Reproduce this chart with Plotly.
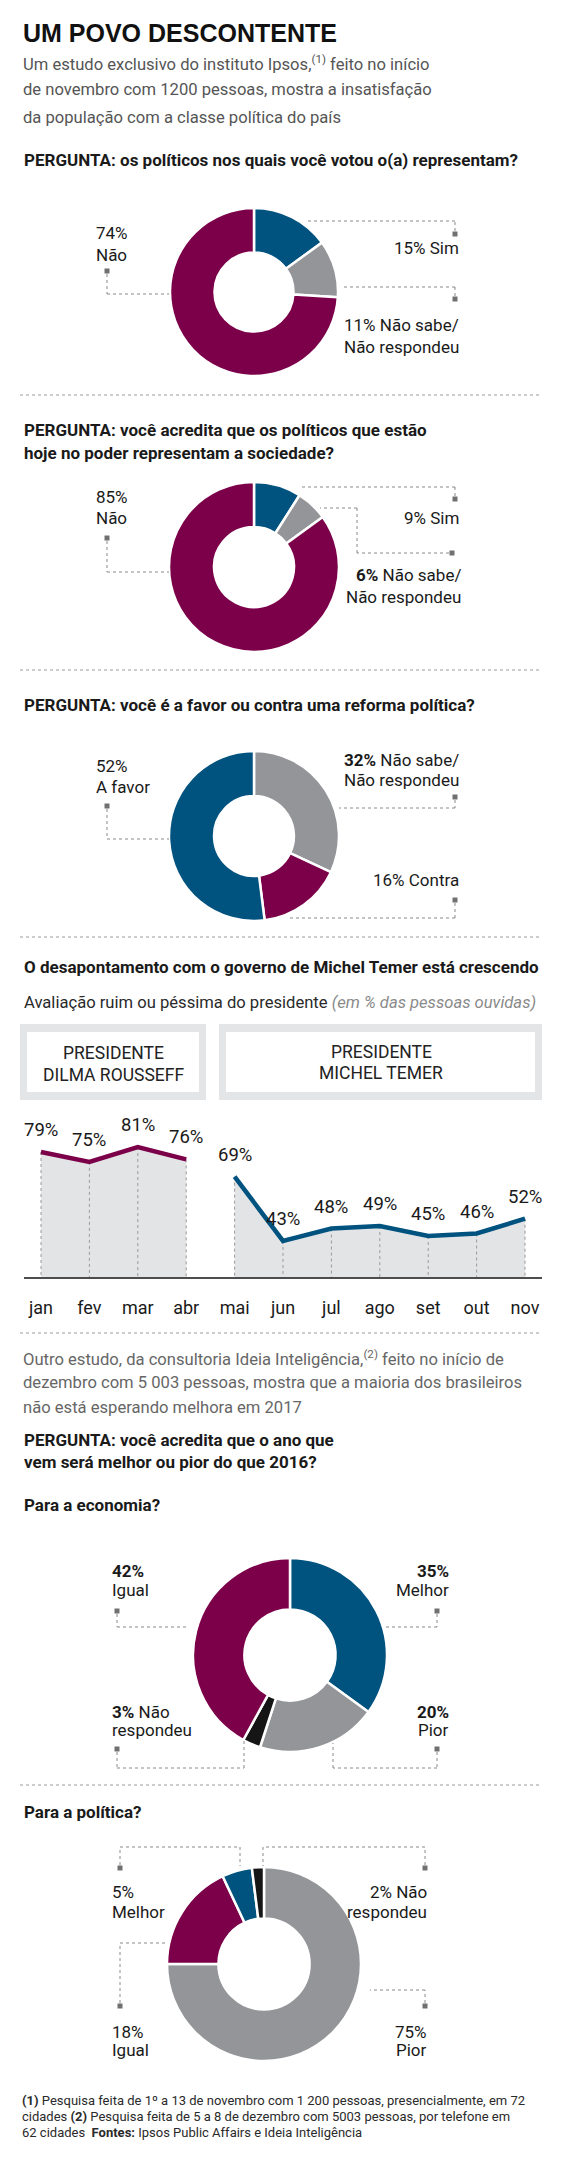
import plotly.graph_objects as go

W, H = 563, 2160

# ---------------- data ----------------
q1_labels = ["Sim", "Não sabe/Não respondeu", "Não"]
q1_values = [15, 11, 74]
q2_labels = ["Sim", "Não sabe/Não respondeu", "Não"]
q2_values = [9, 6, 85]
q3_labels = ["Não sabe/Não respondeu", "Contra", "A favor"]
q3_values = [32, 16, 52]

months = ["jan", "fev", "mar", "abr", "mai", "jun", "jul", "ago", "set", "out", "nov"]
dilma_months = months[:4]
dilma_values = [79, 75, 81, 76]
temer_months = months[4:]
temer_values = [69, 43, 48, 49, 45, 46, 52]

eco_labels = ["Melhor", "Pior", "Não respondeu", "Igual"]
eco_values = [35, 20, 3, 42]
pol_labels = ["Pior", "Igual", "Melhor", "Não respondeu"]
pol_values = [75, 18, 5, 2]

# ---------------- style ----------------
MAROON = "#7c0049"
BLUE = "#00527f"
GRAY = "#939598"
BLACK = "#151515"
DARK = "#1a1a1a"
SUB = "#555555"
LEAD = "#8a8a8a"
SQ = "#707070"
NARROW = "Roboto, Liberation Sans, Arial, sans-serif"
WIDE = "Liberation Sans, Arial, sans-serif"
HEAD = 17     # bold headings
LBL = 17      # donut labels
PAR = 16.6    # grey paragraphs

fig = go.Figure()
annotations = []
shapes = []


def px(x):
    return x / W


def py(y):
    return 1 - y / H


def text(x, y, s, size=LBL, color=DARK, anchor="left", family=NARROW):
    annotations.append(dict(x=px(x), y=py(y), xref="paper", yref="paper", text=s,
                            showarrow=False, xanchor=anchor, yanchor="middle",
                            font=dict(family=family, size=size, color=color)))


def leader(pts):
    for (x0, y0), (x1, y1) in zip(pts[:-1], pts[1:]):
        shapes.append(dict(type="line", xref="paper", yref="paper",
                           x0=px(x0), y0=py(y0), x1=px(x1), y1=py(y1),
                           line=dict(color=LEAD, width=1, dash="dot")))


def square(x, y, s=5):
    shapes.append(dict(type="rect", xref="paper", yref="paper",
                       x0=px(x - s / 2), x1=px(x + s / 2), y0=py(y + s / 2), y1=py(y - s / 2),
                       fillcolor=SQ, line=dict(width=0)))


def separator(y):
    shapes.append(dict(type="line", xref="paper", yref="paper",
                       x0=px(20), x1=px(542), y0=py(y), y1=py(y),
                       line=dict(color="#9a9a9a", width=1, dash="dot")))


def donut(values, labels, colors, cx, cy, r):
    fig.add_trace(go.Pie(values=values, labels=labels, sort=False, direction="clockwise",
                         rotation=0, hole=0.47, textinfo="none", showlegend=False,
                         marker=dict(colors=colors, line=dict(color="white", width=2.5)),
                         domain=dict(x=[px(cx - r), px(cx + r)], y=[py(cy + r), py(cy - r)])))


# ---------------- header ----------------
text(21, 33, "<b>UM POVO DESCONTENTE</b>", size=25, color="#111111", family=WIDE)
text(21, 63, "Um estudo exclusivo do instituto Ipsos,<sup>(1)</sup> feito no início", size=PAR, color=SUB)
text(21, 90, "de novembro com 1200 pessoas, mostra a insatisfação", size=PAR, color=SUB)
text(21, 117, "da população com a classe política do país", size=PAR, color=SUB)

# ---------------- question 1 ----------------
text(22, 160, "<b>PERGUNTA: os políticos nos quais você votou o(a) representam?</b>", size=HEAD)
donut(q1_values, q1_labels, [BLUE, GRAY, MAROON], 254, 292, 84)
text(94, 233, f"{q1_values[2]}%")
text(94, 255, q1_labels[2])
square(107, 271)
leader([(107, 274), (107, 294), (169, 294)])
text(461, 248, f"{q1_values[0]}% {q1_labels[0]}", anchor="right")
square(455, 234)
leader([(455, 231), (455, 221), (307, 221)])
text(461, 325, f"{q1_values[1]}% Não sabe/", anchor="right")
text(461, 347, "Não respondeu", anchor="right")
square(455, 299)
leader([(455, 296), (455, 287), (343, 287)])
separator(395)

# ---------------- question 2 ----------------
text(22, 430, "<b>PERGUNTA: você acredita que os políticos que estão</b>", size=HEAD)
text(22, 453, "<b>hoje no poder representam a sociedade?</b>", size=HEAD)
donut(q2_values, q2_labels, [BLUE, GRAY, MAROON], 254, 567, 85)
text(94, 497, f"{q2_values[2]}%")
text(94, 518, q2_labels[2])
square(107, 538)
leader([(107, 541), (107, 572), (169, 572)])
text(461, 518, f"{q2_values[0]}% {q2_labels[0]}", anchor="right")
square(455, 499)
leader([(455, 496), (455, 487), (300, 487)])
text(463, 575, f"<b>{q2_values[1]}%</b> Não sabe/", anchor="right")
text(463, 597, "Não respondeu", anchor="right")
square(452, 553)
leader([(449, 553), (357, 553), (357, 508), (320, 508)])
separator(670)

# ---------------- question 3 ----------------
text(22, 705, "<b>PERGUNTA: você é a favor ou contra uma reforma política?</b>", size=HEAD)
donut(q3_values, q3_labels, [GRAY, MAROON, BLUE], 254, 836, 85)
text(94, 766, f"{q3_values[2]}%")
text(94, 787, q3_labels[2])
square(107, 806)
leader([(107, 809), (107, 839), (169, 839)])
text(461, 760, f"<b>{q3_values[0]}%</b> Não sabe/", anchor="right")
text(461, 780, "Não respondeu", anchor="right")
square(455, 797)
leader([(455, 800), (455, 808), (339, 808)])
text(461, 880, f"{q3_values[1]}% {q3_labels[1]}", anchor="right")
square(455, 900)
leader([(455, 903), (455, 918), (290, 918)])
separator(937)

# ---------------- line chart ----------------
text(22, 967, "<b>O desapontamento com o governo de Michel Temer está crescendo</b>", size=HEAD)
text(22, 1002, "Avaliação ruim ou péssima do presidente "
     "<span style='color:#8a8a8a'><i>(em % das pessoas ouvidas)</i></span>", size=PAR, color="#2a2a2a")

BOXC = "#e4e5e6"
for (x0, x1) in [(20, 206), (219, 542)]:
    shapes.append(dict(type="rect", xref="paper", yref="paper", x0=px(x0), x1=px(x1),
                       y0=py(1100), y1=py(1024), fillcolor=BOXC, line=dict(width=0), layer="below"))
    shapes.append(dict(type="rect", xref="paper", yref="paper", x0=px(x0 + 7), x1=px(x1 - 7),
                       y0=py(1092), y1=py(1032), fillcolor="white", line=dict(width=0), layer="below"))
BOXF = 17.5
text(113, 1053, "PRESIDENTE", size=BOXF, anchor="center", color="#222222")
text(113, 1075, "DILMA ROUSSEFF", size=BOXF, anchor="center", color="#222222")
text(381, 1052, "PRESIDENTE", size=BOXF, anchor="center", color="#222222")
text(381, 1073, "MICHEL TEMER", size=BOXF, anchor="center", color="#222222")

Y_LO, Y_HI = 28.4, 87.9
FILL = "#e3e4e6"
for mm, vv, col in [(dilma_months, dilma_values, MAROON), (temer_months, temer_values, BLUE)]:
    fig.add_trace(go.Scatter(x=mm, y=vv, mode="lines", fill="tozeroy", fillcolor=FILL,
                             line=dict(width=0), hoverinfo="skip", showlegend=False))
    xs, ys = [], []
    for m, v in zip(mm, vv):
        xs += [m, m, None]
        ys += [v, Y_LO, None]
    fig.add_trace(go.Scatter(x=xs, y=ys, mode="lines", line=dict(color="#9a9a9a", width=1, dash="dot"),
                             hoverinfo="skip", showlegend=False))
    fig.add_trace(go.Scatter(x=mm, y=vv, mode="lines", line=dict(color=col, width=4.5),
                             showlegend=False))
    for m, v in zip(mm, vv):
        annotations.append(dict(x=m, y=v, xref="x", yref="y", text=f"{v}%", showarrow=False,
                                yshift=22, font=dict(family=NARROW, size=18.5, color=DARK)))

fig.add_trace(go.Scatter(x=months, y=[Y_LO - 4.0] * len(months), mode="markers",
                         marker=dict(symbol="square", size=5, color=SQ), cliponaxis=False,
                         hoverinfo="skip", showlegend=False))

fig.update_xaxes(type="category", categoryorder="array", categoryarray=months,
                 domain=[px(24), px(542)], range=[-0.351, 10.351],
                 showline=True, linecolor="#4d4d4d", linewidth=2, showgrid=False, zeroline=False,
                 ticks="", tickfont=dict(family=NARROW, size=18, color=DARK), ticklabelstandoff=13,
                 fixedrange=True)
fig.update_yaxes(domain=[py(1277), py(1130)], range=[Y_LO, Y_HI], visible=False, fixedrange=True)

separator(1333)

# ---------------- second study ----------------
PARA = "#666666"
text(21, 1358, "Outro estudo, da consultoria Ideia Inteligência,<sup>(2)</sup> feito no início de", size=PAR, color=PARA)
text(21, 1383, "dezembro com 5 003 pessoas, mostra que a maioria dos brasileiros", size=PAR, color=PARA)
text(21, 1407, "não está esperando melhora em 2017", size=PAR, color=PARA)
text(22, 1440, "<b>PERGUNTA: você acredita que o ano que</b>", size=HEAD)
text(22, 1462, "<b>vem será melhor ou pior do que 2016?</b>", size=HEAD)
text(22, 1505, "<b>Para a economia?</b>", size=HEAD)

donut(eco_values, eco_labels, [BLUE, GRAY, BLACK, MAROON], 290, 1655, 97)
text(110, 1571, f"<b>{eco_values[3]}%</b>")
text(110, 1590, eco_labels[3])
square(117, 1611)
leader([(117, 1614), (117, 1627), (188, 1627)])
text(451, 1571, f"<b>{eco_values[0]}%</b>", anchor="right")
text(451, 1590, eco_labels[0], anchor="right")
square(437, 1611)
leader([(437, 1614), (437, 1627), (386, 1627)])
text(110, 1712, f"<b>{eco_values[2]}%</b> Não")
text(110, 1730, "respondeu")
square(117, 1749)
leader([(117, 1752), (117, 1768), (244, 1768), (244, 1740)])
text(451, 1712, f"<b>{eco_values[1]}%</b>", anchor="right")
text(451, 1730, eco_labels[1], anchor="right")
square(437, 1749)
leader([(437, 1752), (437, 1768), (333, 1768), (333, 1743)])
separator(1785)

# ---------------- politics ----------------
text(22, 1812, "<b>Para a política?</b>", size=HEAD)
donut(pol_values, pol_labels, [GRAY, MAROON, BLUE, BLACK], 264, 1964, 97)
text(110, 1892, f"{pol_values[2]}%")
text(110, 1912, pol_labels[2])
square(120, 1868)
leader([(120, 1865), (120, 1847), (240, 1847), (240, 1866)])
text(429, 1892, f"{pol_values[3]}% Não", anchor="right")
text(429, 1912, "respondeu", anchor="right")
square(425, 1868)
leader([(425, 1865), (425, 1847), (263, 1847), (263, 1866)])
text(110, 2032, f"{pol_values[1]}%")
text(110, 2050, pol_labels[1])
square(120, 2006)
leader([(120, 2003), (120, 1943), (167, 1943)])
text(429, 2032, f"{pol_values[0]}%", anchor="right")
text(429, 2050, pol_labels[0], anchor="right")
square(425, 2006)
leader([(425, 2003), (425, 1990), (370, 1990)])

# ---------------- footnote ----------------
FOOT = "#2a2a2a"
text(20, 2100, "<b>(1)</b> Pesquisa feita de 1º a 13 de novembro com 1 200 pessoas, presencialmente, em 72", size=13, color=FOOT)
text(20, 2116, "cidades <b>(2)</b> Pesquisa feita de 5 a 8 de dezembro com 5003 pessoas, por telefone em", size=13, color=FOOT)
text(20, 2132, "62 cidades  <b>Fontes:</b> Ipsos Public Affairs e Ideia Inteligência", size=13, color=FOOT)

fig.update_layout(width=W, height=H, autosize=False, margin=dict(l=0, r=0, t=0, b=0),
                  paper_bgcolor="white", plot_bgcolor="rgba(0,0,0,0)",
                  annotations=annotations, shapes=shapes, hovermode="closest",
                  font=dict(family=NARROW, color=DARK))

fig.write_html("out.html", config={"displayModeBar": False},
               post_script="document.body.style.margin='0';")
